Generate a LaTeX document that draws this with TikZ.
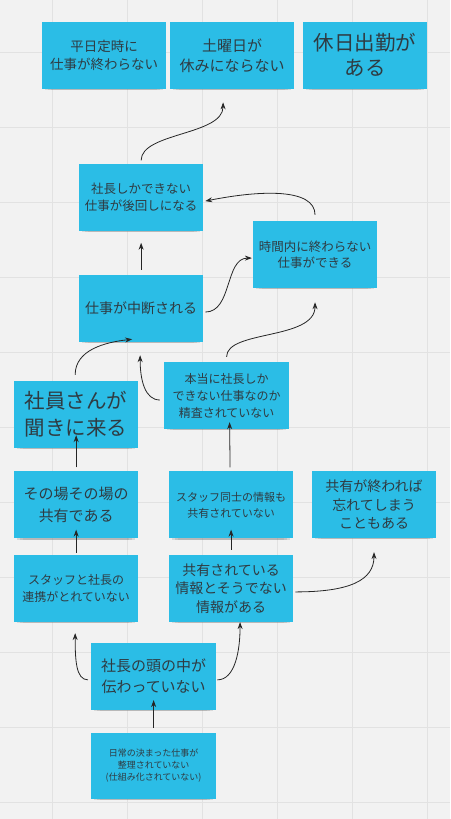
\documentclass[tikz,border=0pt]{standalone}
\usepackage{fontspec}
\setmainfont{Noto Sans CJK JP}
\usetikzlibrary{arrows.meta,shadows}
\definecolor{notecyan}{HTML}{2BBDE6}
\definecolor{notetext}{HTML}{2F3B42}
\definecolor{boardbg}{HTML}{F2F2F2}
\definecolor{boardgrid}{HTML}{E2E2E2}
\begin{document}
\begin{tikzpicture}[x=1pt,y=-1pt,
  note/.style={fill=notecyan,text=notetext,align=center,inner sep=0pt,
    minimum width=124pt,minimum height=67pt,
    drop shadow={shadow xshift=0pt,shadow yshift=-7pt,shadow scale=.86,opacity=.18},
    drop shadow={shadow xshift=0pt,shadow yshift=-5pt,shadow scale=.9,opacity=.22},
    drop shadow={shadow xshift=0pt,shadow yshift=-3pt,shadow scale=.95,opacity=.22}},
  link/.style={-{Stealth[length=7pt,width=5pt]},line width=.8pt,black!85}]
% board
\fill[boardbg] (0,0) rectangle (450,819);
\foreach \g in {52,127,...,427} \draw[boardgrid] (\g,0)--(\g,819);
\foreach \g in {52,127,...,802} \draw[boardgrid] (0,\g)--(450,\g);
% top row
\node[note,font=\fontsize{13.5}{18}\selectfont] (teiji) at (104,55.5) {平日定時に\\仕事が終わらない};
\node[note,font=\fontsize{15}{20}\selectfont] (doyou) at (232,55.5) {土曜日が\\休みにならない};
\node[note,font=\fontsize{20.5}{25}\selectfont] (kyujitsu) at (365,55) {休日出勤が\\ある};
% middle
\node[note,font=\fontsize{12.5}{16.5}\selectfont] (atomawashi) at (141,197) {社長しかできない\\仕事が後回しになる};
\node[note,font=\fontsize{12.5}{16.5}\selectfont] (jikannai) at (315,254.5) {時間内に終わらない\\仕事ができる};
\node[note,font=\fontsize{14}{18}\selectfont] (chudan) at (141,308.5) {仕事が中断される};
\node[note,font=\fontsize{20.5}{27}\selectfont] (kikini) at (76,414.5) {社員さんが\\聞きに来る};
\node[note,minimum width=125pt,font=\fontsize{12}{17}\selectfont] (seisa) at (226.5,395.5) {本当に社長しか\\できない仕事なのか\\精査されていない};
\node[note,font=\fontsize{15}{22}\selectfont] (sonoba) at (76,505) {その場その場の\\共有である};
\node[note,font=\fontsize{11}{16}\selectfont] (doushi) at (231,505) {スタッフ同士の情報も\\共有されていない};
\node[note,font=\fontsize{14}{18.5}\selectfont] (wasure) at (374,504.5) {共有が終われば\\忘れてしまう\\こともある};
\node[note,font=\fontsize{12}{17}\selectfont] (renkei) at (76,588.5) {スタッフと社長の\\連携がとれていない};
\node[note,font=\fontsize{14}{18.5}\selectfont] (kyouyuu) at (231,588.5) {共有されている\\情報とそうでない\\情報がある};
% bottom
\node[note,minimum width=125pt,font=\fontsize{15}{21}\selectfont] (atama) at (153.5,676.5) {社長の頭の中が\\伝わっていない};
\node[note,minimum width=125pt,minimum height=66pt,font=\fontsize{9}{12}\selectfont] (nichijou) at (153.5,766) {日常の決まった仕事が\\整理されていない\\(仕組み化されていない)};
% links
\draw[link] ([yshift=3pt]atomawashi.north) .. controls +(0,-28) and +(0,33) .. ([xshift=-9pt,yshift=-13pt]doyou.south);
\draw[link] ([yshift=6pt]jikannai.north) .. controls +(0,-27) and +(55,-11) .. ([xshift=2pt,yshift=-4pt]atomawashi.east);
\draw[link] ([yshift=5pt]chudan.north) -- ([yshift=-12pt]atomawashi.south);
\draw[link] ([xshift=2pt,yshift=-3.5pt]chudan.east) .. controls +(27,0) and +(-27,0) .. ([xshift=-1pt,yshift=-3.5pt]jikannai.west);
\draw[link] ([yshift=5pt]seisa.north) .. controls +(0,-27) and +(0,38) .. ([yshift=-14pt]jikannai.south);
\draw[link] ([xshift=-4pt,yshift=-4.5pt]seisa.west) .. controls +(-15,0) and +(0,25) .. ([xshift=-1pt,yshift=-13pt]chudan.south);
\draw[link] ([xshift=-1pt,yshift=6pt]kikini.north) .. controls +(0,-25) and +(-27,3) .. ([xshift=-9pt,yshift=3pt]chudan.south);
\draw[link] ([yshift=4pt]sonoba.north) -- ([yshift=13pt]kikini.south);
\draw[link] ([yshift=2pt]renkei.north) -- ([yshift=9pt]sonoba.south);
\draw[link] ([xshift=-1pt,yshift=4pt]doushi.north) -- ([xshift=3pt,yshift=7pt]seisa.south);
\draw[link] ([yshift=5pt]kyouyuu.north) -- ([yshift=9pt]doushi.south);
\draw[link] ([xshift=2pt,yshift=-3.5pt]kyouyuu.east) .. controls +(55,0) and +(0,28) .. ([yshift=-14pt]wasure.south);
\draw[link] ([xshift=-3pt,yshift=-3.5pt]atama.west) .. controls +(-12,0) and +(0,27) .. ([xshift=-1pt,yshift=-11pt]renkei.south);
\draw[link] ([xshift=1pt,yshift=-3.5pt]atama.east) .. controls +(18,0) and +(0,28) .. ([xshift=9pt]kyouyuu.south);
\draw[link] ([yshift=5pt]nichijou.north) -- ([yshift=10pt]atama.south);
\end{tikzpicture}
\end{document}
